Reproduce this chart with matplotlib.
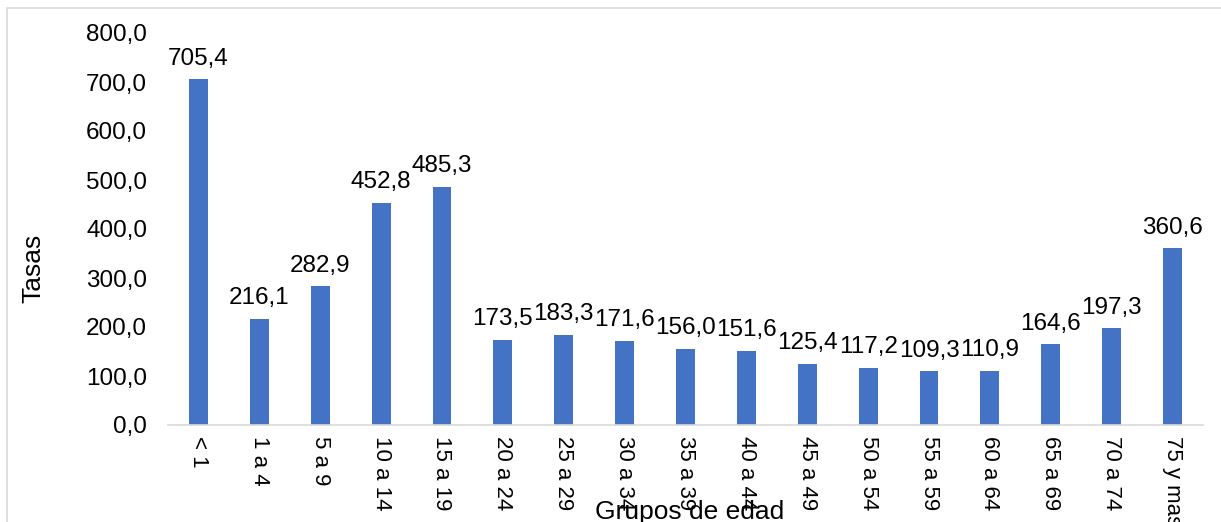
import matplotlib.pyplot as plt
from matplotlib.patches import Rectangle

plt.rcParams['font.family'] = ['Liberation Sans', 'DejaVu Sans']

grupos = ['< 1', '1 a 4', '5 a 9', '10 a 14', '15 a 19', '20 a 24', '25 a 29',
          '30 a 34', '35 a 39', '40 a 44', '45 a 49', '50 a 54', '55 a 59',
          '60 a 64', '65 a 69', '70 a 74', '75 y mas']
tasas = [705.4, 216.1, 282.9, 452.8, 485.3, 173.5, 183.3, 171.6, 156.0,
         151.6, 125.4, 117.2, 109.3, 110.9, 164.6, 197.3, 360.6]
y_ticks = [0, 100, 200, 300, 400, 500, 600, 700, 800]

W, H = 1221, 522
fig = plt.figure(figsize=(W / 100, H / 100), dpi=100)
ax = fig.add_axes([168 / W, 1 - 425 / H, (1203 - 168) / W, (425 - 33) / H])

x = range(len(grupos))
bars = ax.bar(x, tasas, width=0.31, color='#4472C4')

for xi, v in zip(x, tasas):
    ax.annotate(f'{v:.1f}'.replace('.', ','), (xi, v), xytext=(0, 7),
                textcoords='offset points', ha='center', va='bottom', fontsize=17.5)

ax.set_xlim(-0.5, len(grupos) - 0.5)
ax.set_ylim(0, 800)
ax.set_yticks(y_ticks)
ax.set_yticklabels([f'{t:.1f}'.replace('.', ',') for t in y_ticks], fontsize=17.5)
ax.set_xticks(list(x))
ax.set_xticklabels(grupos, rotation=-90, fontsize=16, va='top', ha='center')
ax.tick_params(axis='both', length=0)
ax.tick_params(axis='x', pad=8)
ax.tick_params(axis='y', pad=15)

for s in ['top', 'right', 'left']:
    ax.spines[s].set_visible(False)
ax.spines['bottom'].set_color('#d9d9d9')
ax.spines['bottom'].set_linewidth(1.2)

fig.text(33 / W, 1 - 268 / H, 'Tasas', rotation=90, ha='center', va='center', fontsize=19)
fig.text(690 / W, 1 - 512 / H, 'Grupos de edad', ha='center', va='center', fontsize=19)

# outer chart frame
fig.patches.append(Rectangle((7 / W, -0.1), 1.1, 1 - 8 / H + 0.1, transform=fig.transFigure,
                             fill=False, edgecolor='#d9d9d9', linewidth=1.2))

fig.savefig('out.png', dpi=100)
